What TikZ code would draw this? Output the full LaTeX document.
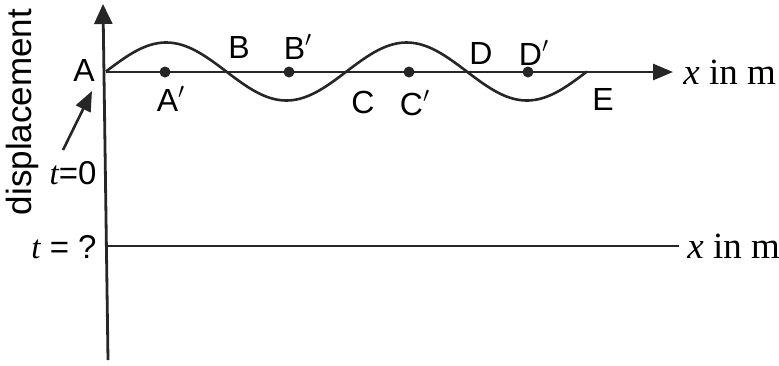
\documentclass[tikz,border=0pt]{standalone}
\usepackage{fontspec}
\setmainfont{Liberation Serif}
\setsansfont{Liberation Sans}
\usetikzlibrary{arrows.meta}

\begin{document}
\begin{tikzpicture}[x=0.5pt,y=-0.5pt,
  axis/.style={line width=1.4pt,draw=black!85},
  wave/.style={line width=1.3pt,draw=black!85},
  lbl/.style={font=\sffamily\fontsize{16}{16}\selectfont,inner sep=0pt},
  unit/.style={font=\fontsize{18.5}{18.5}\selectfont,anchor=west,inner sep=0pt},
  dot/.style={circle,fill=black!85,inner sep=0pt,minimum size=5.5pt}
]
  \useasboundingbox (0,0) rectangle (779,365);
  \coordinate (o) at (106,72);
  \coordinate (top) at (103,4);
  \coordinate (bot) at (108,360);
  \coordinate (xend) at (673,72);
  \coordinate (l0) at (107,246);
  \coordinate (l1) at (679,246);
  \coordinate (tail) at (63,150);
  \coordinate (tip) at (92,91);
  \draw[axis,-{Triangle[length=10pt,width=9pt]}] (bot) -- (top);
  \draw[axis,-{Triangle[length=10pt,width=8pt]}] (o) -- (xend);
  \draw[axis] (l0) -- (l1);
  \draw[wave] plot[domain=106:587,samples=150] (\x,{71.5-29*sin((\x-106)/120.25*180)});
  \node[dot] (pa) at (165,72) {};
  \node[dot] (pb) at (289,72) {};
  \node[dot] (pc) at (409,72) {};
  \node[dot] (pd) at (528,72) {};
  \node[lbl] (A) at (84,70) {A};
  \node[lbl] (Ap) at (171,99) {A$'$};
  \node[lbl] (B) at (239,47) {B};
  \node[lbl] (Bp) at (298,47) {B$'$};
  \node[lbl] (C) at (363,102) {C};
  \node[lbl] (Cp) at (415,103) {C$'$};
  \node[lbl] (D) at (481,53) {D};
  \node[lbl] (Dp) at (534,53) {D$'$};
  \node[lbl] (E) at (603,99) {E};
  \node[rotate=90,inner sep=0pt,font=\sffamily\fontsize{17.5}{17.5}\selectfont] (disp) at (22,112) {displacement};
  \node[lbl,font=\sffamily\fontsize{16.5}{16.5}\selectfont] (t0) at (73,173) {{\rmfamily\itshape t}=0};
  \node[lbl,font=\sffamily\fontsize{16.5}{16.5}\selectfont] (tq) at (64,247) {{\rmfamily\itshape t} = ?};
  \draw[wave,-{Triangle[length=10pt,width=8pt]}] (tail) -- (tip);
  \node[unit] (xm) at (683,72) {\textit{x} in m};
  \node[unit] (xm2) at (687,246) {\textit{x} in m};
\end{tikzpicture}
\end{document}
